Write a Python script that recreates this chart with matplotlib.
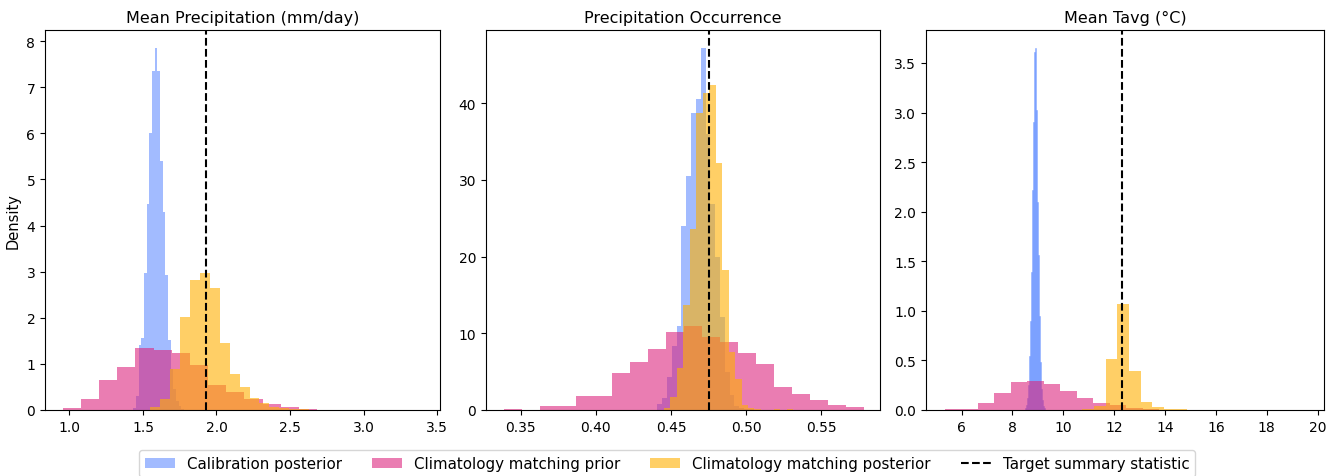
import numpy as np
import matplotlib
matplotlib.use("Agg")
import matplotlib.pyplot as plt

# ---------------- data ----------------
titles = ["Mean Precipitation (mm/day)", "Precipitation Occurrence", "Mean Tavg (°C)"]
series_labels = ["Calibration posterior", "Climatology matching prior",
                 "Climatology matching posterior"]
target_label = "Target summary statistic"
target_values = [1.927, 0.4751, 12.31]

# Panel 1: Mean precipitation -- (first bin edge, bin width, densities)
p1_cal_start, p1_cal_width = 1.434, 0.0182
p1_cal = [0.05, 0.3, 1.4, 1.57, 2.98, 4.46, 6.01, 7.36, 7.85, 7.36,
          5.41, 4.30, 2.93, 1.51, 0.9, 0.45, 0.2, 0.08, 0.03, 0.01]
p1_prior_start, p1_prior_width = 0.955, 0.1235
p1_prior = [0.05, 0.23, 0.64, 0.94, 1.35, 1.31, 1.23, 0.97, 0.54, 0.38,
            0.23, 0.12, 0.06, 0.02, 0.008, 0.008, 0.008, 0.008, 0.0, 0.008]
p1_post_start, p1_post_width = 1.55, 0.0675
p1_post = [0.07, 0.23, 0.90, 2.02, 2.83, 2.98, 2.64, 1.45, 0.78, 0.49,
           0.27, 0.15, 0.07, 0.05, 0.03, 0.015, 0.008, 0.008, 0.008, 0.008]

# Panel 2: Precipitation occurrence
p2_cal_start, p2_cal_width = 0.4410, 0.0032
p2_cal = [0.75, 1.5, 4.25, 8.3, 10.9, 24.0, 30.5, 38.7, 40.5, 47.2,
          36.0, 26.9, 20.0, 12.1, 5.0, 2.0, 0.5, 0.3, 0.1, 0.1]
p2_prior_start, p2_prior_width = 0.339, 0.01196
p2_prior = [0.1, 0.0, 0.48, 0.48, 1.78, 1.78, 4.77, 6.24, 8.02, 10.23,
            10.92, 9.5, 8.93, 7.41, 5.94, 2.95, 2.04, 1.3, 0.61, 0.35]
p2_post_start, p2_post_width = 0.4452, 0.00431
p2_post = [0.3, 1.74, 5.5, 13.7, 23.6, 38.7, 41.3, 42.4, 32.2, 18.3,
           7.5, 4.1, 0.6, 0.2, 0.1, 0.0, 0.0, 0.1, 0.0, 0.1]

# Panel 3: Mean Tavg
p3_cal_start, p3_cal_width = 8.48, 0.0392
p3_cal = [0.02, 0.05, 0.12, 0.25, 0.54, 0.90, 1.39, 2.22, 2.90, 3.61,
          3.65, 3.03, 2.10, 1.56, 0.95, 0.48, 0.21, 0.1, 0.04, 0.02]
p3_prior_start, p3_prior_width = 5.33, 0.65
p3_prior = [0.01, 0.014, 0.067, 0.168, 0.28, 0.297, 0.259, 0.187, 0.12, 0.067,
            0.047, 0.017, 0.01, 0.005, 0.005, 0.003, 0.003, 0.0, 0.0, 0.003]
p3_post_start, p3_post_width = 10.28, 0.46
p3_post = [0.005, 0.01, 0.045, 0.51, 1.065, 0.39, 0.08, 0.027, 0.01, 0.008,
           0.005, 0.003, 0.003, 0.002, 0.002, 0.0, 0.002, 0.0, 0.0, 0.002]

panels = [
    [(p1_cal_start, p1_cal_width, p1_cal), (p1_prior_start, p1_prior_width, p1_prior),
     (p1_post_start, p1_post_width, p1_post)],
    [(p2_cal_start, p2_cal_width, p2_cal), (p2_prior_start, p2_prior_width, p2_prior),
     (p2_post_start, p2_post_width, p2_post)],
    [(p3_cal_start, p3_cal_width, p3_cal), (p3_prior_start, p3_prior_width, p3_prior),
     (p3_post_start, p3_post_width, p3_post)],
]

# ---------------- style / layout ----------------
colors = ["#648FFF", "#DC267F", "#FFB000"]
alpha = 0.6
W, H = 1334, 477
axes_px = [(45, 440), (486, 880), (926, 1324)]   # left/right in pixels
top_px, bottom_px = 31, 411
xlims = [(0.834, 3.52), (0.327, 0.589), (4.60, 20.25)]

fig = plt.figure(figsize=(W / 100, H / 100), dpi=100)

axes = []
for i, (l, r) in enumerate(axes_px):
    ax = fig.add_axes([l / W, (H - bottom_px) / H, (r - l) / W, (bottom_px - top_px) / H])
    for j, ((start, width, dens), col, lab) in enumerate(zip(panels[i], colors, series_labels)):
        dens = np.asarray(dens, dtype=float)
        edges = start + width * np.arange(len(dens) + 1)
        # very narrow bars (calibration posterior of last panel) look denser in the reference
        lw = 0.5 if (i == 2 and j == 0) else 0.0
        ax.hist(edges[:-1], bins=edges, weights=dens, color=col, alpha=alpha, label=lab,
                edgecolor=col, linewidth=lw)
    ax.axvline(target_values[i], color="black", linestyle="--", linewidth=1.5,
               label=target_label)
    ax.set_xlim(*xlims[i])
    ax.set_title(titles[i], fontsize=11.5)
    ax.tick_params(labelsize=10)
    axes.append(ax)

axes[0].set_ylabel("Density", fontsize=10.5)

handles, labels = axes[0].get_legend_handles_labels()
fig.legend(handles, labels, loc="upper center", bbox_to_anchor=(0.5, 1 - 451 / H),
           borderaxespad=0.0, ncol=4, fontsize=10.8, frameon=True)

fig.savefig("out.png", dpi=100)
